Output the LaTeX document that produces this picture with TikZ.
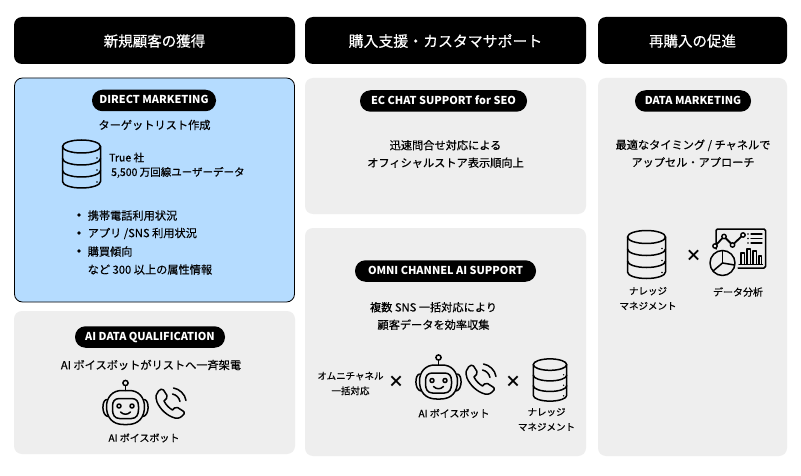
\documentclass[tikz,border=0pt]{standalone}
\usepackage{fontspec}
\setmainfont{Noto Sans CJK JP}
\newfontfamily\medf{Noto Sans CJK JP}[FakeBold=0.35]
\newfontfamily\semif{Noto Sans CJK JP}[FakeBold=0.55]
\newfontfamily\pillf{Noto Sans CJK JP}
\definecolor{panelgray}{HTML}{EEEEEE}
\definecolor{panelblue}{HTML}{B5DCFF}
\tikzset{
  hdr/.style={fill=black,rounded corners=8pt,draw=none},
  panel/.style={fill=panelgray,rounded corners=8pt,draw=none},
  hdrtext/.style={text=white,font=\medf\fontsize{14.5}{16}\selectfont,inner sep=0pt},
  pilltext/.style={fill=black,text=white,rounded corners=10.5pt,font=\pillf\bfseries\fontsize{10.9}{14}\selectfont,inner sep=0pt,minimum height=21.5pt,text height=9pt,text depth=2pt},
  lbl/.style={font=\medf\fontsize{11.2}{17.5}\selectfont,align=center,inner sep=0pt},
  smalltxt/.style={font=\semif\fontsize{10}{17}\selectfont,align=center,inner sep=0pt},
  tinytxt/.style={font=\semif\fontsize{9.5}{15}\selectfont,align=center,inner sep=0pt},
  leadtxt/.style={font=\semif\fontsize{10.5}{16}\selectfont,align=left,anchor=west,inner sep=0pt},
  crossmark/.style={font=\pillf\bfseries\fontsize{16}{16}\selectfont,inner sep=0pt},
  ic/.style={draw=black,line width=1.5pt,line cap=round,line join=round},
  pics/dbicon/.style={code={
    \draw[ic] (-19,-17.5) -- (-19,17.5) arc[start angle=180,end angle=0,x radius=19,y radius=6.5] -- (19,-17.5);
    \draw[ic] (0,-17.5) ellipse[x radius=19,y radius=6.5];
    \draw[ic] (-19,-5.5) arc[start angle=180,end angle=0,x radius=19,y radius=6.5];
    \draw[ic] (-19,6.5) arc[start angle=180,end angle=0,x radius=19,y radius=6.5];
    \foreach \yy in {-6,6,18} \fill (15.5,\yy) circle (0.9);
  }},
  pics/roboticon/.style={code={
    \draw[ic] (0,-25.5) circle (2.6);
    \draw[ic] (0,-23) -- (0,-18);
    \draw[ic] (-4,-18) .. controls (-13,-18) and (-19,-11) .. (-19,-2) .. controls (-19,9) and (-13,16) .. (-2,16) -- (2,16) .. controls (13,16) and (19,9) .. (19,-2) .. controls (19,-11) and (13,-18) .. (4,-18) -- cycle;
    \draw[ic] (-19,-9) .. controls (-24,-8) and (-24,7) .. (-17.5,8);
    \draw[ic] (19,-9) .. controls (24,-8) and (24,7) .. (17.5,8);
    \draw[ic] (-6,-10) -- (6,-10) .. controls (11,-10) and (13,-7) .. (13,-2) -- (13,1) .. controls (13,6) and (11,10) .. (6,10) -- (-6,10) .. controls (-11,10) and (-13,6) .. (-13,1) -- (-13,-2) .. controls (-13,-7) and (-11,-10) .. (-6,-10) -- cycle;
    \draw[ic] (-6.5,-2.5) circle (2);
    \draw[ic] (6.5,-2.5) circle (2);
    \draw[ic] (-5,3.5) .. controls (-2,6.5) and (2,6.5) .. (5,3.5);
  }},
  pics/phoneicon/.style={code={
    \draw[ic] (-12.5,-12) .. controls (-14.5,-9.5) and (-16,-7) .. (-14,-1) .. controls (-11,6) and (-4,13) .. (4,15) .. controls (8,16) and (10.5,14) .. (13,11) .. controls (13.5,9.5) and (13,8.5) .. (12,8) -- (6.5,4.5) .. controls (5.5,4) and (4.5,4) .. (3.5,5) -- (1.5,7) .. controls (-2,5) and (-5,2) .. (-7,-2) -- (-4.5,-4.5) .. controls (-3.5,-5.5) and (-3.5,-6.5) .. (-4,-7.5) -- (-7.5,-13) .. controls (-8.5,-14.5) and (-11,-14) .. (-12.5,-12) -- cycle;
    \draw[ic] (1.5,-9) .. controls (5.5,-8) and (8,-5.5) .. (9,-1.5);
    \draw[ic] (2.5,-15) .. controls (8.5,-14) and (14,-9) .. (15,-2.5);
  }},
}
\begin{document}
\begin{tikzpicture}[x=1pt,y=-1pt]
\useasboundingbox (0,0) rectangle (801,476);
\fill[white] (0,0) rectangle (801,476);
% headers
\fill[hdr] (14,17) rectangle (295,64);
\fill[hdr] (305,17) rectangle (586,64);
\fill[hdr] (598,17) rectangle (787,64);
\node[hdrtext] (h1) at (154.5,41) {新規顧客の獲得};
\node[hdrtext,font=\medf\fontsize{14.9}{16}\selectfont] (h2) at (445.5,41) {購入支援・カスタマサポート};
\node[hdrtext] (h3) at (692.5,41) {再購入の促進};
% panels
\filldraw[fill=panelblue,draw=black,line width=0.8pt,rounded corners=8pt] (14.5,78) rectangle (294.5,302);
\fill[panel] (14,311) rectangle (295,454);
\fill[panel] (305,78) rectangle (586,214);
\fill[panel] (305,228) rectangle (586,456);
\fill[panel] (598,78) rectangle (787,456);
% pills
\node[pilltext,minimum width=124pt] (p1) at (154,100.5) {DIRECT MARKETING};
\node[pilltext,minimum width=150pt] (p2) at (150,337) {AI DATA QUALIFICATION};
\node[pilltext,minimum width=167pt] (p3) at (443.5,101) {EC CHAT SUPPORT for SEO};
\node[pilltext,minimum width=181pt] (p4) at (445.5,271) {OMNI CHANNEL AI SUPPORT};
\node[pilltext,minimum width=116pt] (p5) at (693,101) {DATA MARKETING};
% left top
\node[lbl] (t1) at (154.5,125) {ターゲットリスト作成};
\pic at (81.5,164) {dbicon};
\node[leadtxt] (t2) at (109,157.5) {True 社};
\node[leadtxt] (t3) at (111,172.5) {5,500 万回線ユーザーデータ};
\fill (79,215) circle (1.9);
\fill (79,233) circle (1.9);
\fill (79,251) circle (1.9);
\node[lbl,anchor=west,align=left] (b1) at (87.5,215.5) {携帯電話利用状況};
\node[lbl,anchor=west,align=left] (b2) at (87.5,233.5) {アプリ /SNS 利用状況};
\node[lbl,anchor=west,align=left] (b3) at (87.5,251.5) {購買傾向};
\node[lbl,anchor=west,align=left] (b4) at (87.5,269.5) {など 300 以上の属性情報};
% left bottom
\node[lbl] (t4) at (151,365) {AI ボイスボットがリストへ一斉架電};
\pic at (125.5,408.5) {roboticon};
\pic at (171,403) {phoneicon};
\node[smalltxt] (t5) at (144,438) {AI ボイスボット};
% middle
\node[lbl] (t6) at (445.5,154) {迅速問合せ対応による\\オフィシャルストア表示順向上};
\node[lbl] (t7) at (433.5,316) {複数 SNS 一括対応により\\顧客データを効率収集};
\node[tinytxt] (t8) at (350.5,383.5) {オムニチャネル\\一括対応};
\node[crossmark] (x1) at (396,382) {×};
\pic at (438.5,383) {roboticon};
\pic at (481,379) {phoneicon};
\node[smalltxt] (t9) at (454,413.5) {AI ボイスボット};
\node[crossmark] (x2) at (513,382) {×};
\pic[scale=0.88] at (550,380) {dbicon};
\node[tinytxt] (t10) at (546.5,419.5) {ナレッジ\\マネジメント};
% right
\node[lbl] (t11) at (693,153.5) {最適なタイミング / チャネルで\\アップセル・アプローチ};
\pic at (646.5,254.5) {dbicon};
\node[crossmark] (x3) at (693.5,256) {×};
\node[tinytxt] (t12) at (648,298.5) {ナレッジ\\マネジメント};
\node[smalltxt] (t13) at (738,292) {データ分析};
% dashboard
\draw[ic,rounded corners=1.5pt] (716,249) -- (716,229) -- (765.5,229) -- (765.5,268) -- (738,268);
\draw[ic,line width=1.8pt] (715,246) -- (724,236.5) -- (732.5,245) -- (743,235);
\foreach \p in {(715,246),(724,236.5),(732.5,245),(743,235)} \filldraw[ic,fill=panelgray,line width=1.4pt] \p circle (2.2);
\foreach \yy in {234,238.5,243} {\draw[ic,line width=1.2pt] (751,\yy) -- (762,\yy); \fill (748,\yy) circle (0.9);}
\draw[ic,line width=1.2pt] (741,264) -- (741,253) -- (744.5,253) -- (744.5,264);
\draw[ic,line width=1.2pt] (747,264) -- (747,249) -- (750.5,249) -- (750.5,264);
\draw[ic,line width=1.2pt] (753,264) -- (753,251) -- (756.5,251) -- (756.5,264);
\draw[ic,line width=1.2pt] (759,264) -- (759,256) -- (761.5,256) -- (761.5,264);
\draw[ic,line width=1.2pt] (739,264.5) -- (762.5,264.5);
\filldraw[ic,fill=panelgray] (722.5,263) circle (12.5);
\draw[ic] (722.5,263) -- (722.5,250.5);
\draw[ic] (722.5,263) -- (734.5,265);
\draw[ic] (722.5,263) -- (713,271);
\end{tikzpicture}
\end{document}
